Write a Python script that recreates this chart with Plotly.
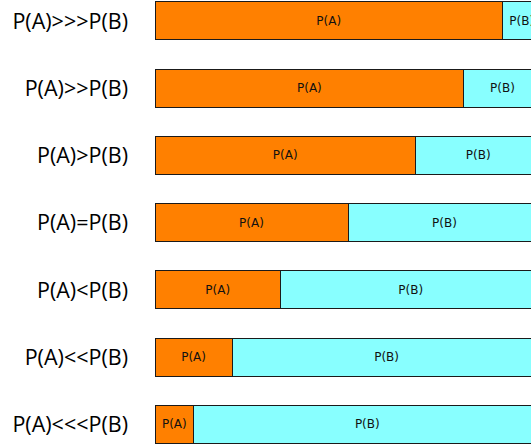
import plotly.graph_objects as go

categories = ["P(A)>>>P(B)", "P(A)>>P(B)", "P(A)>P(B)", "P(A)=P(B)",
              "P(A)<P(B)", "P(A)<<P(B)", "P(A)<<<P(B)"]
p_a = [0.9, 0.8, 0.675, 0.5, 0.325, 0.2, 0.1]
p_b = [round(1 - v, 3) for v in p_a]
label_a = "P(A)"
label_b = "P(B)"

idx = list(range(len(categories)))

fig = go.Figure()
fig.add_trace(go.Bar(
    y=idx, x=p_a, orientation="h", name=label_a,
    marker=dict(color="#FF8000", line=dict(color="#1a1a1a", width=1)),
    text=[label_a] * len(idx), textposition="inside", insidetextanchor="middle",
    textangle=0, constraintext="none",
    textfont=dict(family="DejaVu Sans", size=12, color="#111"),
    width=0.565,
))
fig.add_trace(go.Bar(
    y=idx, x=p_b, orientation="h", name=label_b,
    marker=dict(color="#88FFFF", line=dict(color="#1a1a1a", width=1)),
    text=[label_b] * len(idx), textposition="inside", insidetextanchor="middle",
    textangle=0, constraintext="none",
    textfont=dict(family="DejaVu Sans", size=12, color="#111"),
    width=0.565,
))

fig.update_layout(
    barmode="stack",
    width=531, height=447,
    margin=dict(l=155, r=0, t=0, b=0),
    paper_bgcolor="white", plot_bgcolor="white",
    showlegend=False,
    uniformtext=dict(mode=False),
)
fig.update_xaxes(range=[0, 376 / 386], visible=False, fixedrange=True)
fig.update_yaxes(
    range=[6.335, -0.312], tickmode="array", tickvals=idx, ticktext=categories,
    showgrid=False, zeroline=False, showline=False, ticks="",
    ticklabelstandoff=26,
    tickfont=dict(family="Open Sans", size=21.5, color="#000"),
)

fig.write_html(
    "out.html",
    config={"displayModeBar": False},
    post_script="document.body.style.margin='0';document.body.style.overflow='hidden';",
)
